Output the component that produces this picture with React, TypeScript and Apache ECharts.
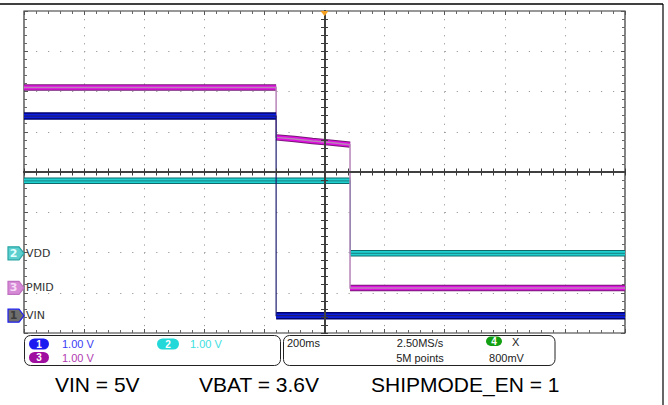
import React, { useEffect, useRef } from "react";
import * as echarts from "echarts";

// ---- time base (ms) and vertical scale (divisions) ----
const X_MIN_MS = -1000;
const X_MAX_MS = 1000;
const X_DIV_MS = 200;
const Y_MIN_DIV = -4;
const Y_MAX_DIV = 4;
const VOLTS_PER_DIV = 1;

// ---- traces (time in ms, value in volts) ----
const VIN_T = [-1000, -161, -161, 1000];
const VIN_V = [4.96, 4.96, 0.0, 0.0];
const PMID_T = [-1000, -161, -161, -100, -40, 20, 85, 85, 1000];
const PMID_V = [4.98, 4.98, 3.74, 3.7, 3.65, 3.61, 3.56, 0.0, 0.0];
const VDD_T = [-1000, 86, 86, 1000];
const VDD_V = [1.8, 1.8, 0.0, 0.0];

// ground reference of each channel, in divisions from centre
const VIN_GROUND_DIV = -3.57;
const VDD_GROUND_DIV = -2.02;
const PMID_GROUND_DIV = -2.88;

// ---- texts ----
const CH_NAMES = ["VIN", "VDD", "PMID"];
const CH_NUMS = ["1", "2", "3"];
const CH_SCALES = ["1.00 V", "1.00 V", "1.00 V"];
const TIMEBASE = "200ms";
const SAMPLE_RATE = "2.50MS/s";
const RECORD = "5M points";
const CH4_NUM = "4";
const CH4_NAME = "X";
const CH4_SCALE = "800mV";
const CAPTIONS = ["VIN = 5V", "VBAT = 3.6V", "SHIPMODE_EN = 1"];

type Pt = [number, number | string];

function toDiv(t: number[], v: number[], ground: number): Pt[] {
  return t.map((ti, i) => [ti, v[i] / VOLTS_PER_DIV + ground] as Pt);
}
function flatOnly(pts: Pt[]): Pt[] {
  const out: Pt[] = [];
  for (let i = 0; i < pts.length; i++) {
    out.push(pts[i]);
    if (i < pts.length - 1 && pts[i][0] === pts[i + 1][0]) out.push([pts[i][0], "-"]);
  }
  return out;
}

export default function App() {
  const ref = useRef<HTMLDivElement>(null);
  useEffect(() => {
    if (!ref.current) return;
    const chart = echarts.init(ref.current, undefined, { renderer: "svg" });

    const vin = toDiv(VIN_T, VIN_V, VIN_GROUND_DIV);
    const pmid = toDiv(PMID_T, PMID_V, PMID_GROUND_DIV);
    const vdd = toDiv(VDD_T, VDD_V, VDD_GROUND_DIV);

    const line = (name: string, data: Pt[], color: string, width: number, z: number) => ({
      type: "line",
      name,
      data,
      xAxisIndex: 0,
      yAxisIndex: 0,
      symbol: "none",
      connectNulls: false,
      lineStyle: { color, width, cap: "butt", join: "miter" },
      z,
      silent: true,
    });

    const edgeTick = { show: true, inside: true, length: 4, lineStyle: { color: "#555", width: 1 } };
    const edgeMinor = { show: true, splitNumber: 5, length: 3, lineStyle: { color: "#666", width: 1 } };
    const centreTick = { show: true, inside: true, length: 3.5, lineStyle: { color: "#3a3a3a", width: 1 } };
    const centreMinor = { show: true, splitNumber: 5, length: 3.5, lineStyle: { color: "#3a3a3a", width: 1 } };
    const centreLine = { show: true, onZero: true, lineStyle: { color: "#404040", width: 2 } };
    const noLabel = { show: false };

    const xBase = { type: "value", min: X_MIN_MS, max: X_MAX_MS, interval: X_DIV_MS, axisLabel: noLabel };
    const yBase = { type: "value", min: Y_MIN_DIV, max: Y_MAX_DIV, interval: 1, axisLabel: noLabel };

    const option: any = {
      animation: false,
      backgroundColor: "#ffffff",
      grid: [
        { left: 24, top: 11, width: 601, height: 322, show: true, borderColor: "#333", borderWidth: 1.2, backgroundColor: "transparent" },
        { left: 24, top: 11, width: 601, height: 322, show: false },
      ],
      xAxis: [
        {
          ...xBase, gridIndex: 0, position: "bottom",
          axisLine: { show: false, onZero: false },
          axisTick: edgeTick, minorTick: edgeMinor,
          splitLine: { show: true, lineStyle: { color: "#9a9a9a", width: 1, type: [1.2, 6.85] } },
        },
        {
          ...xBase, gridIndex: 0, position: "top",
          axisLine: { show: false, onZero: false },
          axisTick: edgeTick, minorTick: edgeMinor, splitLine: { show: false },
        },
        {
          ...xBase, gridIndex: 1, position: "bottom", z: 10,
          axisLine: centreLine, axisTick: centreTick, minorTick: centreMinor, splitLine: { show: false },
        },
        {
          ...xBase, gridIndex: 1, position: "top", z: 10,
          axisLine: centreLine, axisTick: centreTick, minorTick: centreMinor, splitLine: { show: false },
        },
      ],
      yAxis: [
        {
          ...yBase, gridIndex: 0, position: "left",
          axisLine: { show: false, onZero: false },
          axisTick: edgeTick, minorTick: edgeMinor,
          splitLine: { show: true, lineStyle: { color: "#9a9a9a", width: 1, type: [1.2, 10.82] } },
        },
        {
          ...yBase, gridIndex: 0, position: "right",
          axisLine: { show: false, onZero: false },
          axisTick: edgeTick, minorTick: edgeMinor, splitLine: { show: false },
        },
        {
          ...yBase, gridIndex: 1, position: "left", z: 10,
          axisLine: centreLine, axisTick: centreTick, minorTick: centreMinor, splitLine: { show: false },
        },
        {
          ...yBase, gridIndex: 1, position: "right", z: 10,
          axisLine: centreLine, axisTick: centreTick, minorTick: centreMinor, splitLine: { show: false },
        },
      ],
      series: [
        line("VDD edge", flatOnly(vdd), "#0e6a6b", 6.5, 3),
        line("VDD", flatOnly(vdd), "#1fd0d0", 4.5, 4),
        line("VDD step", vdd, "#1a8f90", 1.2, 4),
        line("PMID edge", flatOnly(pmid), "#761a76", 6.5, 5),
        line("PMID", flatOnly(pmid), "#e010e0", 4.5, 6),
        line("PMID step", pmid, "#b884b8", 1.5, 6),
        line("VIN edge", flatOnly(vin), "#00006e", 7.5, 7),
        line("VIN", flatOnly(vin), "#0c1ee0", 4.5, 8),
        line("VIN step", vin, "#1c1c70", 1.2, 8),
      ],
    };
    chart.setOption(option);

    const px = (t: number, d: number) => chart.convertToPixel({ xAxisIndex: 0, yAxisIndex: 0 }, [t, d]) as number[];
    const trig = px(0, Y_MAX_DIV);

    const markerStyles = [
      { fill: "#6e6e6e", stroke: "#2020f0", text: "#3c3c3c" },
      { fill: "#5ccfcf", stroke: "#2ba5a5", text: "#e6ffff" },
      { fill: "#d68ad6", stroke: "#c070c0", text: "#f6dcf6" },
    ];
    const grounds = [VIN_GROUND_DIV, VDD_GROUND_DIV, PMID_GROUND_DIV];
    const g: any[] = [];

    // outer frame
    g.push({ type: "line", shape: { x1: 0, y1: 4, x2: 663, y2: 4 }, style: { stroke: "#000", lineWidth: 1.5 }, z: 20 });
    g.push({ type: "line", shape: { x1: 663, y1: 4, x2: 663, y2: 405 }, style: { stroke: "#000", lineWidth: 1.2 }, z: 20 });
    // trigger marker
    g.push({
      type: "polygon",
      shape: { points: [[trig[0] - 4, trig[1]], [trig[0] + 4, trig[1]], [trig[0], trig[1] + 5]] },
      style: { fill: "#f5a020" }, z: 20,
    });
    // channel ground markers
    grounds.forEach((gd, i) => {
      const y = px(X_MIN_MS, gd)[1];
      const s = markerStyles[i];
      g.push({
        type: "polygon",
        shape: { points: [[8, y - 6.5], [19, y - 6.5], [24, y], [19, y + 6.5], [8, y + 6.5]] },
        style: { fill: s.fill, stroke: s.stroke, lineWidth: 1.2 }, z: 20,
      });
      g.push({
        type: "text", x: 13.5, y,
        style: { text: CH_NUMS[i], fill: s.text, font: "bold 11px 'DejaVu Sans'", align: "center", verticalAlign: "middle" }, z: 21,
      });
      g.push({
        type: "text", x: 26, y,
        style: { text: CH_NAMES[i], fill: "#333", font: "11px 'DejaVu Sans'", align: "left", verticalAlign: "middle" }, z: 21,
      });
    });

    // info boxes
    g.push({ type: "rect", shape: { x: 24.5, y: 335.5, width: 256, height: 30, r: 6 }, style: { fill: "none", stroke: "#222", lineWidth: 1 }, z: 20 });
    g.push({ type: "rect", shape: { x: 283.5, y: 335.5, width: 271.5, height: 30, r: 6 }, style: { fill: "none", stroke: "#222", lineWidth: 1 }, z: 20 });

    const pill = (x: number, y: number, w: number, h: number, fill: string, label: string) => {
      g.push({ type: "rect", shape: { x, y, width: w, height: h, r: h / 2 }, style: { fill }, z: 20 });
      g.push({
        type: "text", x: x + w / 2, y: y + h / 2,
        style: { text: label, fill: "#fff", font: "bold 10px 'Liberation Sans'", align: "center", verticalAlign: "middle" }, z: 21,
      });
    };
    const txt = (x: number, y: number, text: string, fill: string, align = "left", size = 11) =>
      g.push({
        type: "text", x, y,
        style: { text, fill, font: `${size}px 'Liberation Sans'`, align, verticalAlign: "middle" }, z: 21,
      });

    pill(29, 338.5, 20, 11, "#1c1cf0", CH_NUMS[0]);
    txt(62, 344, CH_SCALES[0], "#3b3bf5");
    pill(157, 338.5, 22, 11, "#22d8d8", CH_NUMS[1]);
    txt(190, 344, CH_SCALES[1], "#3ce0e0");
    pill(29, 352, 20, 11, "#a010a0", CH_NUMS[2]);
    txt(62, 358, CH_SCALES[2], "#b13ab1");

    txt(287, 343, TIMEBASE, "#222");
    txt(420, 343, SAMPLE_RATE, "#222", "center");
    txt(420, 358, RECORD, "#222", "center");
    pill(486, 336.5, 16, 9.5, "#12a012", CH4_NUM);
    txt(512, 342, CH4_NAME, "#222");
    txt(506.5, 358, CH4_SCALE, "#222", "center");

    // captions
    const capX = [55, 199, 371];
    CAPTIONS.forEach((c, i) =>
      g.push({
        type: "text", x: capX[i], y: 384,
        style: { text: c, fill: "#000", font: "21px 'Liberation Sans'", align: "left", verticalAlign: "middle" }, z: 21,
      })
    );

    chart.setOption({ graphic: g });
    return () => chart.dispose();
  }, []);

  return (
    <div
      ref={ref}
      style={{ position: "absolute", left: 0, top: 0, width: 668, height: 405, background: "#fff" }}
    />
  );
}
